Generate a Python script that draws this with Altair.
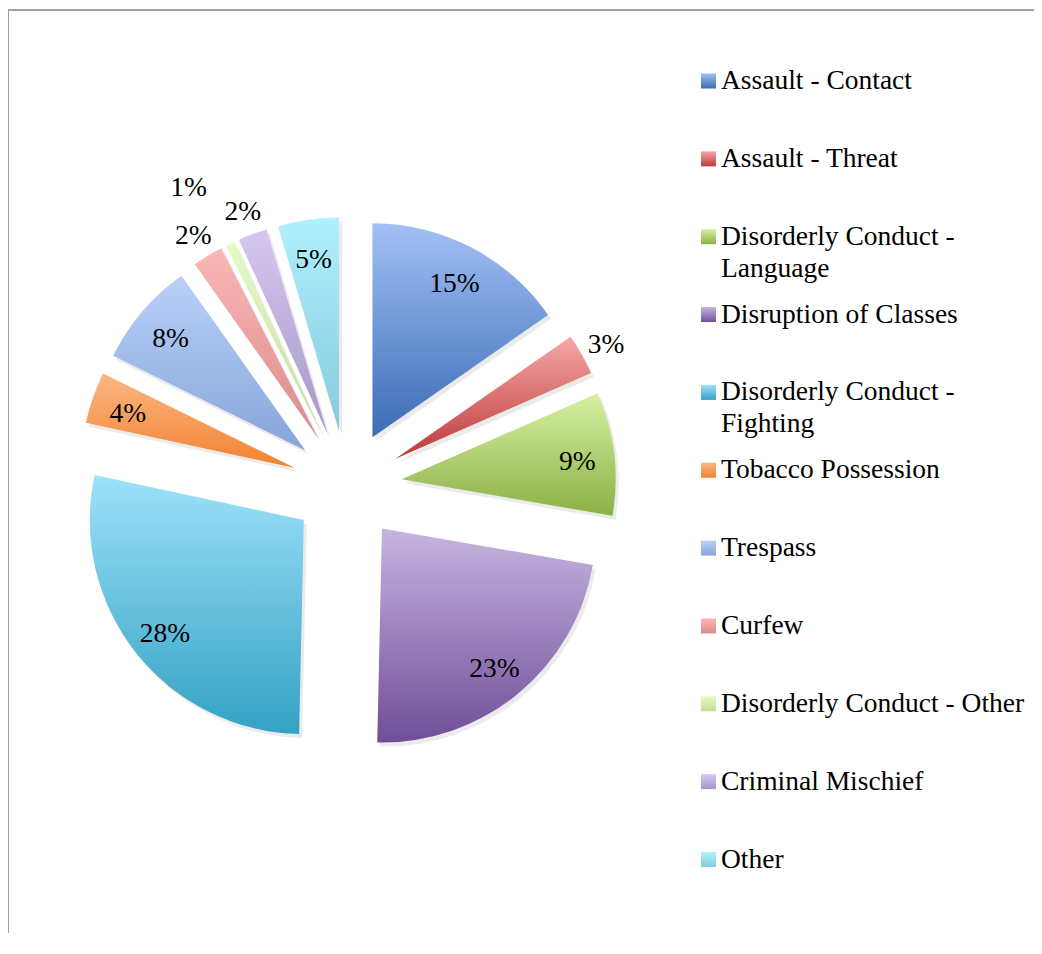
import altair as alt
import pandas as pd

# ---------------- data ----------------
categories = [
    "Assault - Contact",
    "Assault - Threat",
    "Disorderly Conduct - Language",
    "Disruption of Classes",
    "Disorderly Conduct - Fighting",
    "Tobacco Possession",
    "Trespass",
    "Curfew",
    "Disorderly Conduct - Other",
    "Criminal Mischief",
    "Other",
]
shares = [15.3, 3.1, 9.3, 22.6, 28.0, 3.9, 7.9, 2.3, 0.7, 2.2, 4.6]
legend_labels = [
    "Assault - Contact",
    "Assault - Threat",
    "Disorderly Conduct -\nLanguage",
    "Disruption of Classes",
    "Disorderly Conduct -\nFighting",
    "Tobacco Possession",
    "Trespass",
    "Curfew",
    "Disorderly Conduct - Other",
    "Criminal Mischief",
    "Other",
]

# ---------------- style ----------------
top_colors = ["#a3c0f5", "#f6a8a6", "#d6f1a2", "#c6b5e1", "#9ee1fa", "#fdb784",
              "#b9d1fb", "#fbb7b7", "#e5fbc8", "#d5c7ef", "#b1f0fe"]
bottom_colors = ["#3a6cb5", "#bb3a3b", "#8cb046", "#6f4e98", "#33a2c4", "#f18230",
                 "#87a5d8", "#dc8a8a", "#c2de97", "#a697c7", "#84cade"]

FONT = "Liberation Serif"
FS = 27.5
W, H = 1026, 925
CX, CY = 339, 478       # pie centre (plot px)
R = 214                 # pie radius
EXPLODE = 55            # explosion distance
LEG_X = 700.5
LEG_Y0 = 73
LEG_STEP = (851.5 - 73) / 10


def grad(i):
    return alt.LinearGradient(
        gradient="linear",
        stops=[alt.GradientStop(color=top_colors[i], offset=0),
               alt.GradientStop(color=bottom_colors[i], offset=1)],
        x1=0, x2=0, y1=0, y2=1,
    )


df = pd.DataFrame({
    "cat": categories,
    "value": shares,
    "idx": list(range(len(categories))),
    "legend": legend_labels,
})

base = (
    alt.Chart(df)
    .transform_joinaggregate(total="sum(value)")
    .transform_window(cum="sum(value)", sort=[alt.SortField("idx")])
    .transform_calculate(
        share="datum.value / datum.total",
        t1="2 * PI * datum.cum / datum.total",
        t0="datum.t1 - 2 * PI * datum.value / datum.total",
        mid="(datum.t0 + datum.t1) / 2",
        cx=f"{CX} + {EXPLODE} * sin(datum.mid)",
        cy=f"{CY} - {EXPLODE} * cos(datum.mid)",
        lr="datum.share < 0.01 ? 286 : (datum.share < 0.035 ? 242 : 177)",
        la="datum.share < 0.01 ? datum.mid - 0.04 : datum.mid",
        lx="datum.cx + datum.lr * sin(datum.la)",
        ly="datum.cy - datum.lr * cos(datum.la)",
        label="format(datum.share, '.0%')",
        legy=f"{LEG_Y0} + datum.idx * {LEG_STEP}",
    )
)

arc_enc = dict(
    x=alt.X("cx:Q", scale=None),
    y=alt.Y("cy:Q", scale=None),
    theta=alt.Theta("t0:Q", scale=None, stack=False),
    theta2=alt.Theta2("t1:Q"),
)

layers = []

# soft shadow
layers.append(
    base.mark_arc(radius=R, fill="#000000", opacity=0.08, xOffset=3, yOffset=4).encode(**arc_enc)
)

for i, c in enumerate(categories):
    sub = base.transform_filter(alt.datum.idx == i)
    layers.append(sub.mark_arc(radius=R, fill=grad(i)).encode(**arc_enc))
    layers.append(
        sub.mark_square(size=225, fill=grad(i), opacity=1).encode(
            x=alt.value(LEG_X), y=alt.Y("legy:Q", scale=None)
        )
    )

# slice labels
layers.append(
    base.mark_text(align="center", baseline="middle", font=FONT, fontSize=FS,
                   color="#000000", dy=4).encode(
        x=alt.X("lx:Q", scale=None), y=alt.Y("ly:Q", scale=None), text="label:N"
    )
)

# legend labels
layers.append(
    base.mark_text(align="left", baseline="alphabetic", font=FONT, fontSize=FS,
                   color="#000000", lineBreak="\n", lineHeight=32, dy=8).encode(
        x=alt.value(LEG_X + 12.5), y=alt.Y("legy:Q", scale=None), text="legend:N"
    )
)

# frame lines (top & left)
frame_data = alt.Data(values=[{"k": 1}])
layers.append(
    alt.Chart(frame_data).mark_rule(color="#a0a0a0", strokeWidth=2).encode(
        x=alt.value(0), x2=alt.value(W), y=alt.value(2)
    )
)
layers.append(
    alt.Chart(frame_data).mark_rule(color="#a0a0a0", strokeWidth=2).encode(
        x=alt.value(0), y=alt.value(2), y2=alt.value(H)
    )
)

chart = (
    alt.layer(*layers)
    .properties(width=W, height=H, padding=0, autosize=alt.AutoSizeParams(type="none"), background="white")
    .configure_view(strokeWidth=0)
)

chart.save("out.html", embed_options={"renderer": "svg", "actions": False})
